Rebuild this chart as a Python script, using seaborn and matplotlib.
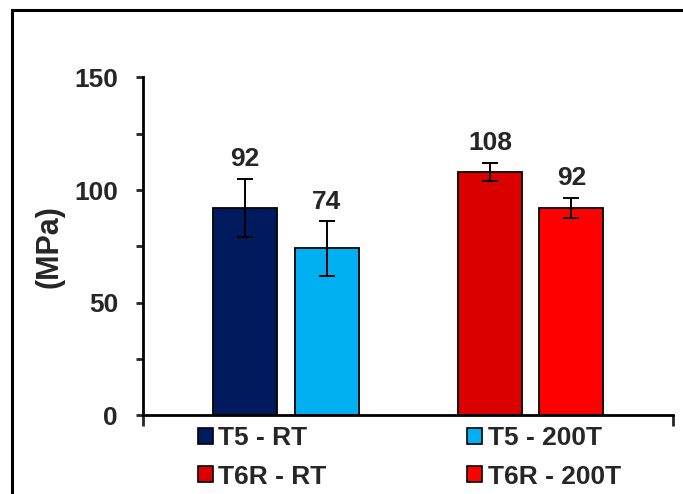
import matplotlib
matplotlib.use("Agg")
import matplotlib.pyplot as plt
from matplotlib.patches import Patch, Rectangle
from matplotlib.ticker import MultipleLocator
import seaborn as sns
import pandas as pd

# data
labels = ["T5 - RT", "T5 - 200T", "T6R - RT", "T6R - 200T"]
values = [92, 74, 108, 92]
errors = [13, 12, 4, 4.5]
colors = ["#001A5E", "#00B0F0", "#DA0000", "#FF0000"]

# bar centres along the x axis (layout only)
positions = [1.24, 2.24, 4.23, 5.22]
X_MAX = 6.46

sns.set_theme(style="white")
plt.rcParams["font.family"] = ["Liberation Sans", "DejaVu Sans"]
plt.rcParams["font.weight"] = "bold"

df = pd.DataFrame({"pos": positions, "MPa": values, "label": labels})

fig = plt.figure(figsize=(6.83, 4.94), dpi=100)
ax = fig.add_axes([143 / 683, 1 - 415 / 494, 530 / 683, (415 - 77.5) / 494])

sns.barplot(data=df, x="pos", y="MPa", hue="label", hue_order=labels,
            palette=colors, saturation=1, native_scale=True, dodge=False,
            width=0.79, edgecolor="black", linewidth=1.3, legend=False, ax=ax)
ax.errorbar(positions, values, yerr=errors, fmt="none", ecolor="black",
            elinewidth=1.4, capsize=5.5, capthick=1.4, zorder=5)

for p, v, e in zip(positions, values, errors):
    ax.annotate(str(v), (p, v + e), xytext=(0, 9), textcoords="offset points",
                ha="center", va="baseline", fontsize=19, fontweight="bold")

ax.set_xlim(0, X_MAX)
ax.set_ylim(0, 150)
ax.yaxis.set_major_locator(MultipleLocator(50))
ax.yaxis.set_minor_locator(MultipleLocator(25))
ax.set_xticks([0, X_MAX])
ax.set_xticklabels([])
ax.set_xlabel("")
ax.set_ylabel("")
ax.tick_params(axis="y", which="both", direction="out", length=5, width=2,
               left=True, pad=13, labelsize=19)
ax.tick_params(axis="x", direction="out", length=8, width=2, bottom=True)
for lab in ax.get_yticklabels():
    lab.set_fontweight("bold")
sns.despine(ax=ax)
for side in ["left", "bottom"]:
    ax.spines[side].set_linewidth(2)
    ax.spines[side].set_color("black")

fig.text(50 / 683, 1 - 247 / 494, "(MPa)", rotation=90, ha="center",
         va="center", fontsize=22, fontweight="bold")

handles = [Patch(facecolor=c, edgecolor="black", linewidth=1.2) for c in colors]
order = [0, 2, 1, 3]
fig.legend([handles[i] for i in order], [labels[i] for i in order],
           loc="upper left", bbox_to_anchor=(198 / 683, 1 - 426 / 494),
           ncol=2, frameon=False, fontsize=19, handlelength=0.56,
           handleheight=0.56, handletextpad=0.2, columnspacing=5.35,
           labelspacing=0.55, borderpad=0, borderaxespad=0)

# outer frame, cut off on the right and bottom
fig.patches.append(Rectangle((12, -20), 700, 494 + 20 - 10, transform=None,
                             fill=False, edgecolor="black", linewidth=2.2))

fig.savefig("out.png", dpi=100)
